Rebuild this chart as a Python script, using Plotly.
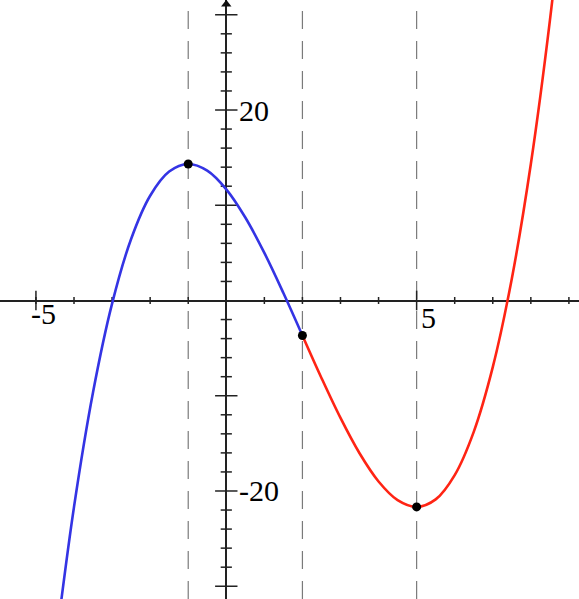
import plotly.graph_objects as go

# ---- data ----
x_left = [-4.5, -4.0, -3.5, -3.0, -2.5, -2.0, -1.5, -1.0, -0.5, 0.0, 0.5, 1.0, 1.5, 2.0]
y_left = [-36.71, -21.67, -9.63, -0.33, 6.46, 11.0, 13.54, 14.33, 13.63, 11.67, 8.71, 5.0, 0.79, -3.67]
x_right = [2.0, 2.5, 3.0, 3.5, 4.0, 4.5, 5.0, 5.5, 6.0, 6.5, 7.0, 7.5, 8.0, 8.5, 9.0]
y_right = [-3.67, -8.13, -12.33, -16.04, -19.0, -20.96, -21.67, -20.88, -18.33, -13.79, -7.0, 2.29, 14.33, 29.38, 47.67]
crit_x = [-1, 2, 5]
crit_y = [14.33, -3.67, -21.67]
x_minor_ticks = [-5, -4, -3, -2, -1, 1, 2, 3, 4, 6, 7, 8, 9]
x_major_ticks = [-5, 5]
y_minor_ticks = [-28, -26, -24, -22, -18, -16, -14, -12, -8, -6, -4, -2,
                 2, 4, 6, 8, 12, 14, 16, 18, 22, 24, 26, 28]
y_major_ticks = [-30, -20, -10, 10, 20, 30]
x_labels = [(-5, "-5"), (5, "5")]
y_labels = [(20, "20"), (-20, "-20")]

XR = [-5.944, 9.265]
YR = [-31.34, 31.55]

fig = go.Figure()

for xv in crit_x:
    fig.add_vline(x=xv, line=dict(color="#7a7a7a", width=1.2, dash="18px,12px"), layer="below")

# ticks on the axes
fig.add_trace(go.Scatter(x=x_minor_ticks, y=[0]*len(x_minor_ticks), mode="markers",
                         marker=dict(symbol="line-ns", size=5, line=dict(color="#222", width=1.5)),
                         hoverinfo="skip", showlegend=False))
fig.add_trace(go.Scatter(x=x_major_ticks, y=[0]*len(x_major_ticks), mode="markers",
                         marker=dict(symbol="line-ns", size=14, line=dict(color="#222", width=1.5)),
                         hoverinfo="skip", showlegend=False))
fig.add_trace(go.Scatter(x=[0]*len(y_minor_ticks), y=y_minor_ticks, mode="markers",
                         marker=dict(symbol="line-ew", size=8, line=dict(color="#222", width=1.5)),
                         hoverinfo="skip", showlegend=False))
fig.add_trace(go.Scatter(x=[0]*len(y_major_ticks), y=y_major_ticks, mode="markers",
                         marker=dict(symbol="line-ew", size=16, line=dict(color="#222", width=1.5)),
                         hoverinfo="skip", showlegend=False))
# arrow head on y axis
fig.add_trace(go.Scatter(x=[0], y=[YR[1] - 0.45], mode="markers",
                         marker=dict(symbol="triangle-up", size=9, color="#111"),
                         hoverinfo="skip", showlegend=False))

fig.add_trace(go.Scatter(x=x_left, y=y_left, mode="lines", line=dict(color="#3434e4", width=2.6, shape="spline"),
                         showlegend=False))
fig.add_trace(go.Scatter(x=x_right, y=y_right, mode="lines", line=dict(color="#ff2414", width=2.6, shape="spline"),
                         showlegend=False))
fig.add_trace(go.Scatter(x=crit_x, y=crit_y, mode="markers", marker=dict(color="black", size=9),
                         showlegend=False))

font = dict(family="'Liberation Serif', 'DejaVu Serif', 'Times New Roman', serif", size=30, color="black")
for xv, t in x_labels:
    fig.add_annotation(x=xv + (0.19 if xv < 0 else 0.30), y=(-1.35 if xv < 0 else -1.75), text=t,
                       showarrow=False, xanchor="center", yanchor="middle", font=font)
for yv, t in y_labels:
    fig.add_annotation(x=0.27, y=yv, text=t, showarrow=False,
                       xanchor="left", yanchor="middle", font=font)

fig.update_layout(
    width=579, height=599, margin=dict(l=0, r=0, t=0, b=0),
    paper_bgcolor="white", plot_bgcolor="white",
    font=font,
    xaxis=dict(range=XR, showgrid=False, showticklabels=False, ticks="", zeroline=True,
               zerolinecolor="#222", zerolinewidth=1.5, showline=False, fixedrange=True),
    yaxis=dict(range=YR, showgrid=False, showticklabels=False, ticks="", zeroline=True,
               zerolinecolor="#222", zerolinewidth=1.5, showline=False, fixedrange=True),
)

fig.write_html("out.html", config={"displayModeBar": False},
               post_script="document.body.style.margin='0px';document.body.style.padding='0px';")
